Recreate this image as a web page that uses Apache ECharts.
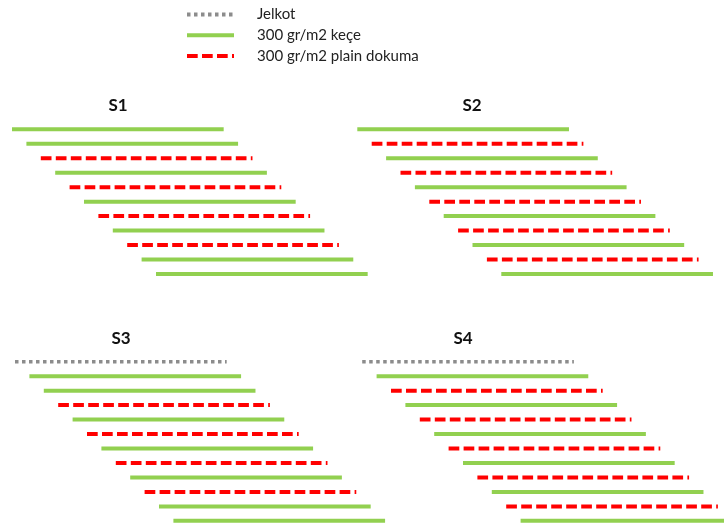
<!DOCTYPE html>
<html>
<head>
<meta charset="utf-8">
<script src="https://cdn.jsdelivr.net/npm/echarts@6/dist/echarts.min.js"></script>
<style>
  html, body { margin: 0; padding: 0; background: #fff; }
  #chart { width: 724px; height: 529px; }
</style>
</head>
<body>
<div id="chart"></div>
<script>
// katman dizilimleri (J = jelkot, K = keçe, P = plain dokuma)
var panelNames = ['S1', 'S2', 'S3', 'S4'];
var seqS1 = ['K', 'K', 'P', 'K', 'P', 'K', 'P', 'K', 'P', 'K', 'K'];
var seqS2 = ['K', 'P', 'K', 'P', 'K', 'P', 'K', 'P', 'K', 'P', 'K'];
var seqS3 = ['J', 'K', 'K', 'P', 'K', 'P', 'K', 'P', 'K', 'P', 'K', 'K'];
var seqS4 = ['J', 'K', 'P', 'K', 'P', 'K', 'P', 'K', 'P', 'K', 'P', 'K'];
var materialCodes = ['J', 'K', 'P'];
var materialNames = ['Jelkot', '300 gr/m2 keçe', '300 gr/m2 plain dokuma'];
var plyLength = 14.7; // katman uzunluğu (kaydırma birimi cinsinden)

var sequences = [seqS1, seqS2, seqS3, seqS4];

var styles = {
    J: { color: '#8C8C8C', width: 3.5, type: [3.5, 3.5] },
    K: { color: '#92D050', width: 4, type: 'solid' },
    P: { color: '#FF0000', width: 4, type: [10.7, 4.3] }
};

var step = 14.4;
var gridPos = [
    { left: 12, top: 129.3 },
    { left: 357.3, top: 129.3 },
    { left: 15, top: 361.7 },
    { left: 362.2, top: 361.7 }
];
var titlePos = [[118, 106], [472, 106], [121, 339], [463, 339]];

var myChart = echarts.init(document.getElementById('chart'));

var grids = [], xAxes = [], yAxes = [], series = [], graphics = [];

for (var g = 0; g < sequences.length; g++) {
    var seq = sequences[g];
    var n = seq.length - 1;
    var xMax = Math.ceil(n + plyLength);
    grids.push({
        left: gridPos[g].left,
        top: gridPos[g].top,
        width: xMax * step,
        height: n * 14.47,
        outerBoundsMode: 'none'
    });
    xAxes.push({ type: 'value', gridIndex: g, min: 0, max: xMax, show: false });
    yAxes.push({ type: 'value', gridIndex: g, min: 0, max: n, inverse: true, show: false });

    for (var i = 0; i < seq.length; i++) {
        var st = styles[seq[i]];
        series.push({
            type: 'line',
            name: materialNames[materialCodes.indexOf(seq[i])],
            xAxisIndex: g,
            yAxisIndex: g,
            data: [[i, i], [i + plyLength, i]],
            symbol: 'none',
            silent: true,
            clip: false,
            color: st.color,
            lineStyle: { color: st.color, width: st.width, type: st.type, cap: 'butt' }
        });
    }

    graphics.push({
        type: 'text',
        x: titlePos[g][0],
        y: titlePos[g][1],
        style: {
            text: panelNames[g],
            font: 'bold 17px Lato',
            fill: '#111',
            align: 'center',
            verticalAlign: 'middle'
        }
    });
}

var option = {
    animation: false,
    backgroundColor: '#fff',
    legend: {
        orient: 'vertical',
        left: 185,
        top: 7,
        padding: 0,
        itemWidth: 47,
        itemHeight: 14,
        itemGap: 5.8,
        selectedMode: false,
        data: materialNames,
        itemStyle: { opacity: 0 },
        lineStyle: { width: 4 },
        textStyle: {
            fontFamily: 'Lato',
            fontSize: 15,
            color: '#222',
            padding: [0, 0, 0, 18]
        }
    },
    grid: grids,
    xAxis: xAxes,
    yAxis: yAxes,
    graphic: graphics,
    series: series
};

myChart.setOption(option);
</script>
</body>
</html>
